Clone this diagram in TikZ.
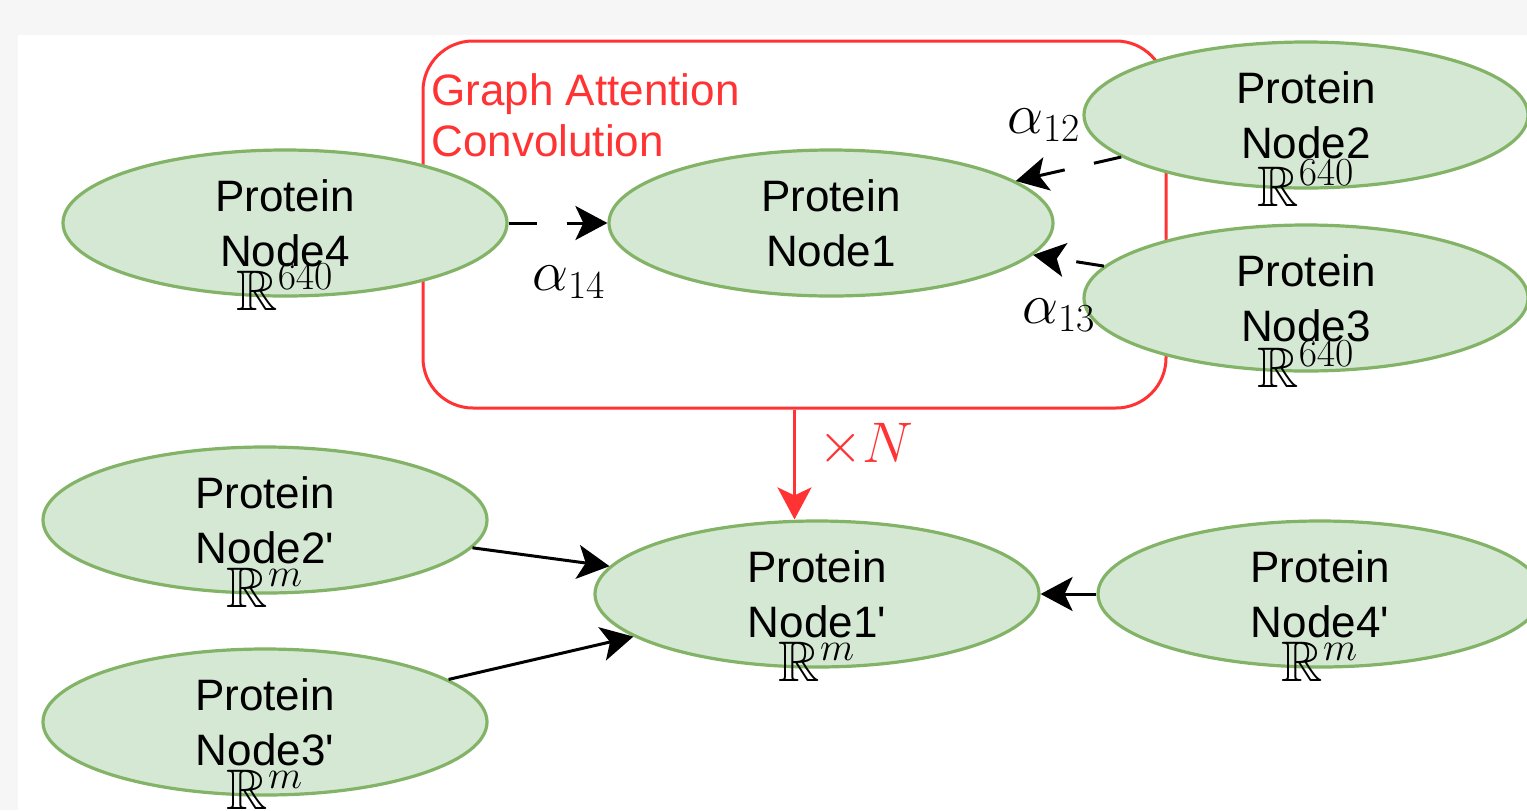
\documentclass[tikz,border=0pt]{standalone}
\usepackage{fontspec}
\setmainfont{Liberation Sans}
\usepackage{amssymb}
\usepackage{xcolor}
\usepackage{tikz}
\usetikzlibrary{positioning, shapes.geometric}
\usetikzlibrary{arrows.meta}
\DeclareMathSizes{24.88}{24.88}{17.28}{12.44}
\definecolor{nodefill}{HTML}{D5E8D4}
\definecolor{nodeline}{HTML}{82B366}
\definecolor{gatred}{HTML}{FF3333}
\definecolor{pagegray}{HTML}{F6F6F6}
\newcommand{\dimtext}[1]{\scalebox{1.15}{$#1$}}

\begin{document}
\begin{tikzpicture}[x=0.5pt, y=-0.5pt]
        \tikzset{protein/.style = {ellipse, draw=nodeline, fill=nodefill, line width=1.6pt, minimum width=222pt, minimum height=73pt, inner sep=0pt, align=center, font=\fontsize{22}{27.5}\selectfont}}
        \tikzset{dim/.style = {anchor=base, inner sep=0pt, font=\Huge}}
        \tikzset{link/.style = {-{Stealth[length=16pt, width=17pt, inset=4pt]}, line width=1.5pt}}
        \tikzset{attn/.style = {link, dash pattern=on 14pt off 15pt}}

        \useasboundingbox (0,0) rectangle (1527,810);
        \fill[pagegray] (0,0) rectangle (1527,810);
        \fill[white] (18,35) rectangle (1527,810);

        % attention block
        \node[draw=gatred, line width=1.5pt, rounded corners=25pt, minimum width=371.5pt, minimum height=183.5pt] (gat) at (794.5,224.5) {};
        \node[anchor=north west, inner sep=0pt, align=left, text=gatred, font=\fontsize{22}{25.5}\selectfont] (gattitle) at (431,73) {Graph Attention\\Convolution};

        \node[protein] (n4) at (285,223) {Protein\\Node4};
        \node[protein] (n1) at (831,223) {Protein\\Node1};
        \node[protein] (n2) at (1306,115) {Protein\\Node2};
        \node[protein] (n3) at (1306,298) {Protein\\Node3};

        \node[protein] (m2) at (265,520) {Protein\\Node2\textquotesingle};
        \node[protein] (m3) at (265,722) {Protein\\Node3\textquotesingle};
        \node[protein] (m1) at (817,594) {Protein\\Node1\textquotesingle};
        \node[protein] (m4) at (1320,594) {Protein\\Node4\textquotesingle};

        \node[dim] (n4d) at ([yshift=-43.5pt]n4.center) {\dimtext{\mathbb{R}^{640}}};
        \node[dim] (n2d) at ([yshift=-45.5pt]n2.center) {\dimtext{\mathbb{R}^{640}}};
        \node[dim] (n3d) at ([yshift=-44.5pt]n3.center) {\dimtext{\mathbb{R}^{640}}};
        \node[dim] (m2d) at ([yshift=-43.5pt]m2.center) {\dimtext{\mathbb{R}^{m}}};
        \node[dim] (m3d) at ([yshift=-43.5pt]m3.center) {\dimtext{\mathbb{R}^{m}}};
        \node[dim] (m1d) at ([yshift=-43.5pt]m1.center) {\dimtext{\mathbb{R}^{m}}};
        \node[dim] (m4d) at ([yshift=-43.5pt]m4.center) {\dimtext{\mathbb{R}^{m}}};

        \node[dim] (a14) at (569,290) {\dimtext{\alpha_{14}}};
        \node[dim] (a12) at (1044,133) {\dimtext{\alpha_{12}}};
        \node[dim] (a13) at (1059,323) {\dimtext{\alpha_{13}}};
        \node[dim, text=gatred] (rep) at (866,462) {\dimtext{\times N}};

        % arrows
        \draw[attn] (n4) -- (n1);
        \draw[attn] (n2) -- (n1);
        \draw[attn] (n3) -- (n1);
        \draw[link] (m2) -- (m1);
        \draw[link] (m3) -- (m1);
        \draw[link] (m4) -- (m1);
        \draw[link, gatred] (gat.south) -- (gat.south |- m1.north);

    \end{tikzpicture}
\end{document}
